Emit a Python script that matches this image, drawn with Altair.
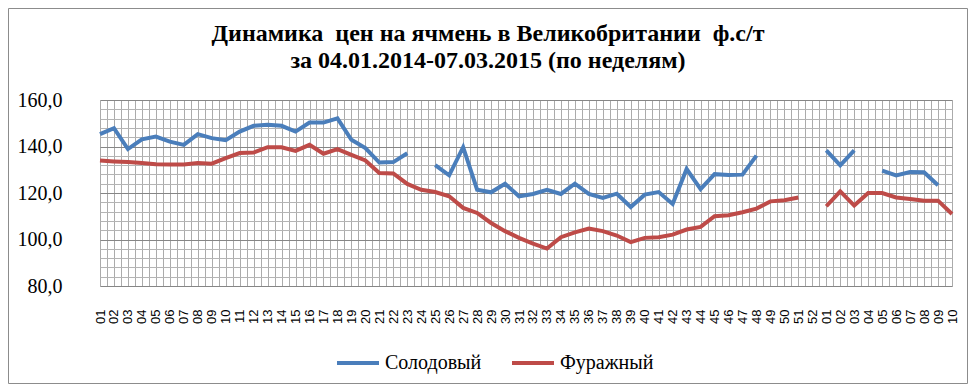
import altair as alt
import pandas as pd

title_lines = ["Динамика \u00a0цен на ячмень в Великобритании \u00a0ф.с/т",
               "за 04.01.2014-07.03.2015 (по неделям)"]

week_labels = [f"{w:02d}" for w in range(1, 53)] + [f"{w:02d}" for w in range(1, 11)]

malting = [145.3, 147.9, 138.9, 143.1, 144.3, 142.1, 140.7, 145.3, 143.6, 142.7,
           146.4, 148.9, 149.3, 148.9, 146.4, 150.3, 150.3, 152.1, 142.9, 139.3,
           133.1, 133.3, 137.1, None, 132.0, 127.6, 139.7, 121.4, 120.3, 124.0,
           118.6, 119.6, 121.4, 119.6, 124.0, 119.6, 117.9, 119.7, 114.0, 119.3,
           120.4, 115.3, 130.3, 121.7, 128.1, 127.7, 127.9, 136.1, None, None,
           None, None, 138.3, 131.9, 138.3, None, 129.6, 127.6, 129.0, 128.9,
           123.3, None]

feed = [134.0, 133.6, 133.3, 132.9, 132.4, 132.3, 132.3, 132.9, 132.6, 135.0,
        137.2, 137.4, 139.7, 139.7, 138.1, 140.7, 136.9, 138.9, 136.4, 134.0,
        128.6, 128.4, 123.9, 121.4, 120.4, 118.6, 113.6, 111.4, 107.1, 103.6,
        100.7, 98.2, 96.1, 101.0, 103.1, 104.7, 103.6, 101.7, 98.9, 100.7,
        101.0, 102.1, 104.3, 105.4, 110.0, 110.4, 111.7, 113.3, 116.4, 116.9,
        118.1, None, 114.3, 120.7, 114.6, 120.0, 120.0, 118.1, 117.4, 116.7,
        116.7, 111.0]

series_names = ["Солодовый", "Фуражный"]
series_colors = ["#4A7EBB", "#BE4B48"]

rows = []
for name, vals in zip(series_names, [malting, feed]):
    for i, v in enumerate(vals):
        rows.append({"i": i, "series": name, "value": v})
df = pd.DataFrame(rows)

labels_js = "[" + ",".join(f"'{s}'" for s in week_labels) + "]"
x_label_expr = f"datum.value % 1 === 0 ? {labels_js}[datum.value] : ''"

x_enc = alt.X(
    "i:Q",
    scale=alt.Scale(domain=[0, len(week_labels) - 1], nice=False, zero=False),
    axis=alt.Axis(
        values=[k * 0.5 for k in range(2 * (len(week_labels) - 1) + 1)],
        labelExpr=x_label_expr,
        labelAngle=-90,
        labelOverlap=False,
        labelFlush=False,
        labelFont="Liberation Sans",
        labelFontSize=13,
        labelColor="black",
        labelPadding=23,
        ticks=False,
        domain=False,
        grid=True,
        gridColor="#ABABAB",
        gridWidth=1,
        title=None,
    ),
)

y_enc = alt.Y(
    "value:Q",
    scale=alt.Scale(domain=[80, 160], nice=False, zero=False),
    axis=alt.Axis(
        values=list(range(80, 161, 4)),
        labelExpr="datum.value % 20 === 0 ? replace(format(datum.value, '.1f'), '.', ',') : ''",
        labelFont="Liberation Serif",
        labelFontSize=20,
        labelColor="black",
        labelPadding=38,
        ticks=False,
        domain=False,
        grid=True,
        gridColor=alt.condition("datum.value % 20 === 0", alt.value("#868686"), alt.value("#B4B4B4")),
        gridWidth=1,
        title=None,
    ),
)

lines = alt.Chart(df).mark_line(strokeWidth=4, invalid="break-paths-show-domains").encode(
    x=x_enc,
    y=y_enc,
    color=alt.Color(
        "series:N",
        scale=alt.Scale(domain=series_names, range=series_colors),
        legend=alt.Legend(
            title=None,
            orient="none",
            legendX=235,
            legendY=240,
            direction="horizontal",
            symbolType="stroke",
            symbolSize=1764,
            symbolStrokeWidth=4,
            labelFont="Liberation Serif",
            labelFontSize=20,
            labelColor="black",
            labelOffset=4,
            columnPadding=22,
        ),
    ),
)

title_df = pd.DataFrame({"t": title_lines, "row": [0, 1]})
title1 = alt.Chart(title_df).transform_filter("datum.row === 0").mark_text(
    font="Liberation Serif", fontSize=24, fontWeight="bold", color="black",
    align="center", baseline="alphabetic"
).encode(text="t:N", x=alt.value(388), y=alt.value(-59))
title2 = alt.Chart(title_df).transform_filter("datum.row === 1").mark_text(
    font="Liberation Serif", fontSize=24, fontWeight="bold", color="black",
    align="center", baseline="alphabetic"
).encode(text="t:N", x=alt.value(388), y=alt.value(-32))

frame = alt.Chart(pd.DataFrame({"a": [0]})).mark_rect(
    fillOpacity=0, stroke="#8C8C8C", strokeWidth=1
).encode(
    x=alt.value(-91.5), x2=alt.value(867.5), y=alt.value(-91.5), y2=alt.value(283.5)
)

chart = alt.layer(lines, title1, title2, frame).properties(
    width=852,
    height=186,
    padding={"left": 92, "top": 92, "right": 16, "bottom": 98},
    autosize=alt.AutoSizeParams(type="none"),
).configure_view(stroke=None).configure(background="white")

chart.save("out.html", embed_options={"renderer": "svg", "actions": False})
